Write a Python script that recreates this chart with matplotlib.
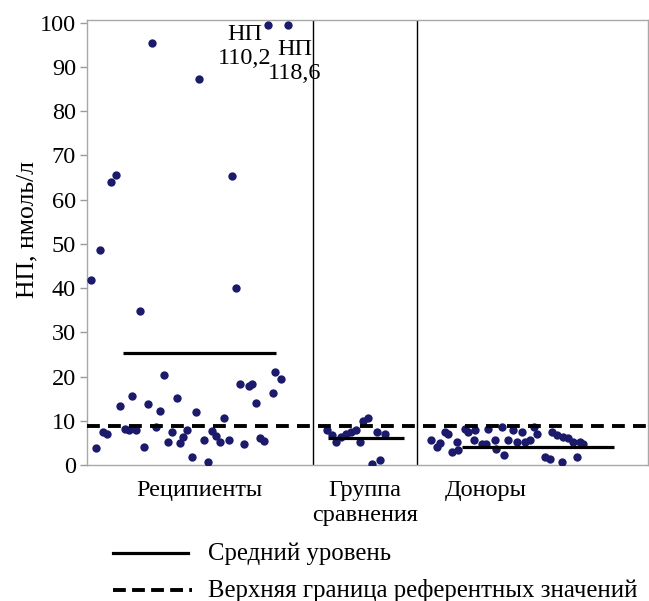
import matplotlib
matplotlib.use("Agg")
import matplotlib.pyplot as plt
from matplotlib.lines import Line2D

plt.rcParams["font.family"] = ["Liberation Serif", "DejaVu Serif"]

# jitter positions on a 0..100 horizontal scale, values in nmol/l
REC_POS = [0.8, 1.6, 2.3, 2.9, 3.6, 4.3, 5.1, 5.8, 6.8, 7.4, 8.0, 8.7, 9.4,
           10.2, 10.9, 11.5, 12.3, 13.0, 13.7, 14.5, 15.1, 16.0, 16.6, 17.2,
           17.8, 18.7, 19.4, 20.0, 20.9, 21.6, 22.3, 23.0, 23.7, 24.4, 25.3,
           25.9, 26.6, 27.3, 28.0, 28.8, 29.5, 30.1, 30.8, 31.6, 32.2, 33.1,
           33.6, 34.5, 35.9]
REC_VAL = [41.8, 3.8, 48.7, 7.4, 7.1, 63.9, 65.6, 13.4, 8.1, 7.9, 15.6, 7.9,
           34.8, 4.1, 13.9, 95.5, 8.5, 12.2, 20.3, 5.1, 7.5, 15.2, 5.0, 6.3,
           7.9, 1.7, 11.9, 87.3, 5.7, 0.6, 7.6, 6.5, 5.1, 10.7, 5.7, 65.3,
           40.1, 18.2, 4.7, 17.8, 18.3, 14.1, 6.2, 5.4, 110.2, 16.3, 21.0,
           19.5, 118.6]

CMP_POS = [42.8, 43.7, 44.4, 45.3, 46.2, 47.1, 47.9, 48.7, 49.2, 50.1, 50.8,
           51.7, 52.2, 53.1]
CMP_VAL = [7.9, 6.8, 5.3, 6.4, 7.0, 7.5, 7.9, 5.3, 9.9, 10.6, 0.3, 7.4, 1.2,
           7.0]

DON_POS = [61.4, 62.3, 62.9, 63.8, 64.4, 65.0, 65.9, 66.1, 67.4, 68.0, 69.2,
           68.9, 70.4, 71.2, 71.5, 72.7, 72.9, 73.9, 74.4, 75.1, 76.0, 76.6,
           77.5, 78.1, 79.0, 79.6, 80.2, 81.6, 82.5, 82.8, 83.7, 84.6, 84.9,
           85.8, 86.7, 87.3, 87.9, 88.4]
DON_VAL = [5.7, 4.1, 5.0, 7.5, 7.1, 2.9, 5.2, 3.3, 8.2, 7.5, 7.9, 5.7, 4.8,
           4.8, 8.2, 5.6, 3.7, 8.6, 2.2, 5.7, 7.9, 5.2, 7.5, 5.2, 5.6, 8.6,
           7.1, 1.7, 1.4, 7.5, 6.7, 0.7, 6.3, 6.0, 5.2, 1.7, 5.2, 4.8]

GROUPS = ["Реципиенты", "Группа\nсравнения", "Доноры"]
GROUP_CENTERS = [20.0, 49.5, 71.0]
SEPARATORS = [40.3, 58.8]
MEANS = [25.4, 6.2, 4.1]
MEAN_SPANS = [(6.4, 33.7), (43.0, 56.5), (66.8, 93.9)]
REF_UPPER = 8.8
YMAX = 100

DOT = "#1b1a6b"
FS = 17.5

fig = plt.figure(figsize=(6.49, 6.01), dpi=100)
ax = fig.add_axes([87 / 649, 1 - 465 / 601, 561 / 649, 445 / 601])

for pos, val in [(REC_POS, REC_VAL), (CMP_POS, CMP_VAL), (DON_POS, DON_VAL)]:
    shown = [min(v, YMAX - 0.6) for v in val]
    ax.scatter(pos, shown, s=36, color=DOT, zorder=3, linewidths=0)

# off-scale values printed next to their capped dots
off = [(p, v) for p, v in zip(REC_POS, REC_VAL) if v > YMAX]
for (p, v), dx, yc in zip(off, (-4.1, 1.1), (94.6, 91.2)):
    ax.text(p + dx, yc, f"НП\n{v:.1f}".replace(".", ","), ha="center",
            va="center", fontsize=FS, linespacing=1.22, zorder=4)

for m, (a, b) in zip(MEANS, MEAN_SPANS):
    ax.plot([a, b], [m, m], color="black", lw=2.3, solid_capstyle="butt",
            zorder=4)

ax.axhline(REF_UPPER, color="black", lw=2.8, ls=(0, (3.3, 2.1)), zorder=5)

for s in SEPARATORS:
    ax.axvline(s, color="black", lw=1.0, zorder=2)

ax.set_xlim(0, 100)
ax.set_ylim(0, YMAX + 0.6)
ax.set_yticks(range(0, 101, 10))
ax.set_xticks([])
ax.tick_params(axis="y", direction="out", length=5, width=1, color="#9a9a9a",
               labelsize=FS, pad=3)
for sp in ax.spines.values():
    sp.set_color("#a8a8a8")
    sp.set_linewidth(1.0)
ax.set_ylabel("НП, нмоль/л", fontsize=18.5)
ax.yaxis.set_label_coords(-0.087, 0.53)

for c, g in zip(GROUP_CENTERS, GROUPS):
    ax.text(c, -3.4, g, ha="center", va="top", fontsize=FS, linespacing=1.25)

# legend drawn under the plot
fig.add_artist(Line2D([113 / 649, 188 / 649], [1 - 553 / 601] * 2,
                      color="black", lw=2.3))
fig.add_artist(Line2D([113 / 649, 192 / 649], [1 - 590 / 601] * 2,
                      color="black", lw=2.8, ls=(0, (3.3, 1.6))))
fig.text(208 / 649, 1 - 554 / 601, "Средний уровень", fontsize=FS + 0.3,
         va="center")
fig.text(208 / 649, 1 - 591 / 601, "Верхняя граница референтных значений",
         fontsize=FS + 0.3, va="center")

fig.savefig("out.png", dpi=100)
